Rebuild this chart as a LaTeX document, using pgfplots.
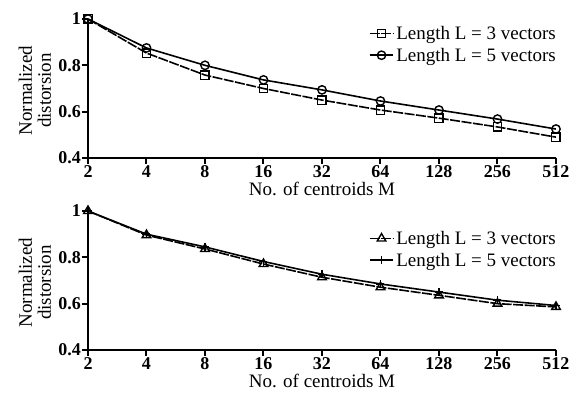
\documentclass[border=0pt]{standalone}
\usepackage{pgfplots}
\pgfplotsset{compat=1.18}
\usepackage{fontspec}
\setmainfont{Liberation Serif}
\pgfplotstableread{
x t3 t5 b3 b5
1 1.000 1.000 1.000 1.000
2 0.853 0.875 0.896 0.900
3 0.758 0.800 0.836 0.845
4 0.700 0.737 0.771 0.782
5 0.650 0.694 0.714 0.727
6 0.607 0.646 0.671 0.685
7 0.572 0.607 0.636 0.650
8 0.534 0.568 0.600 0.615
9 0.490 0.525 0.586 0.592
}\data
\begin{document}
\begin{tikzpicture}
\useasboundingbox (0,0) rectangle (579pt,395pt);
\pgfplotsset{
 myax/.style={
  width=468pt,height=139pt,scale only axis,
  xmin=1,xmax=9,ymin=0.4,ymax=1,
  axis lines=left, axis line style={line width=2.5pt,-},
  xtick={1,...,9}, xticklabels={2,4,8,16,32,64,128,256,512},
  ytick={0.4,0.6,0.8,1}, yticklabels={0.4,0.6,0.8,1},
  tick style={line width=2pt,black}, major tick length=6pt,
  tick align=outside,
  xticklabel style={font=\fontsize{18}{18}\selectfont\bfseries, inner sep=1pt},
  yticklabel style={font=\fontsize{18}{18}\selectfont\bfseries, inner sep=1pt},
  label style={font=\fontsize{19}{19}\selectfont},
  xlabel={No. of centroids M},
  xlabel style={inner sep=0pt, yshift=-4pt},
  ylabel={Normalized\\distorsion}, ylabel style={align=center, inner sep=0pt, yshift=6pt, xshift=-2pt},
  legend style={draw=none, fill=none, font=\fontsize{19}{20}\selectfont,
    at={(1,1)}, anchor=north east, row sep=3pt, inner sep=0pt},
  legend cell align=left,
  legend image code/.code={
    \draw[mark repeat=2,mark phase=2,#1] plot coordinates {(0cm,0cm) (0.42cm,0cm) (0.84cm,0cm)};},
 }
}
\begin{axis}[myax, at={(88pt,237pt)}, legend style={xshift=2pt,yshift=-5pt}]
\addplot[black, line width=1.6pt, dash pattern=on 10pt off 1.5pt, mark=square, mark size=4.2pt, mark options={solid, fill=white, line width=1.4pt}] table[x=x,y=t3]{\data};
\addlegendentry{Length L = 3 vectors}
\addplot[black, line width=1.6pt, mark=o, mark size=4.2pt, mark options={solid, fill=white, line width=1.4pt}] table[x=x,y=t5]{\data};
\addlegendentry{Length L = 5 vectors}
\end{axis}
\begin{axis}[myax, at={(88pt,45pt)}, legend style={xshift=2pt,yshift=-18pt}]
\addplot[black, line width=1.6pt, dash pattern=on 10pt off 1.5pt, mark=triangle, mark size=5pt, mark options={solid, fill=white, line width=1.4pt}] table[x=x,y=b3]{\data};
\addlegendentry{Length L = 3 vectors}
\addplot[black, line width=1.6pt, mark=+, mark size=4pt, mark options={solid, line width=1.4pt}] table[x=x,y=b5]{\data};
\addlegendentry{Length L = 5 vectors}
\end{axis}
\end{tikzpicture}
\end{document}
